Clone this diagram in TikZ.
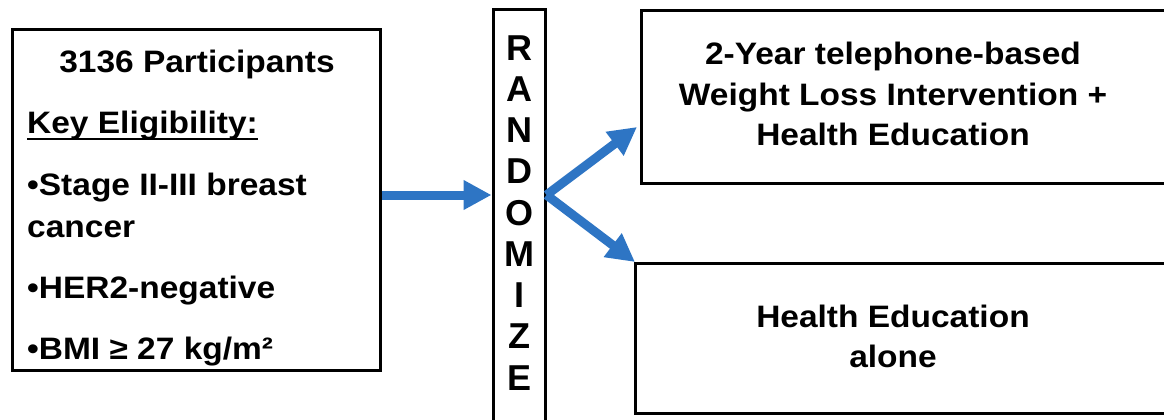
\documentclass[tikz,border=0pt]{standalone}
\usepackage{fontspec}
\setmainfont{Liberation Sans}[FakeStretch=1.08]
\newfontfamily\randfont{Liberation Sans}
\usetikzlibrary{arrows.meta}
\definecolor{arrowblue}{RGB}{46,117,196}
\begin{document}
\begin{tikzpicture}[x=1pt,y=-1pt,
  box/.style={draw=black, line width=3pt, fill=white, inner sep=0pt},
  txt/.style={inner sep=0pt, anchor=base, font=\fontsize{31}{40}\selectfont\bfseries},
  ltxt/.style={txt, anchor=base west},
  rletter/.style={inner sep=0pt, anchor=base, font=\randfont\fontsize{36}{40}\selectfont\bfseries},
  flow/.style={draw=arrowblue, line width=9pt, -{Triangle[length=28pt,width=28pt]}}]
\useasboundingbox (0,0) rectangle (1164,420);
\fill[white] (0,0) rectangle (1164,420);
\clip (0,0) rectangle (1164,420);
% boxes
\node[box, minimum width=368pt, minimum height=340pt] (elig) at (196,200) {};
\node[box, minimum width=52pt, minimum height=430pt] (rand) at (519,225) {};
\node[box, minimum width=539pt, minimum height=172pt] (armA) at (910.5,97) {};
\node[box, minimum width=545pt, minimum height=150pt] (armB) at (907.5,338) {};
% left text
\node[txt] (t1) at (197,72) {3136 Participants};
\node[ltxt] (t2) at (27,133) {Key Eligibility:};
\draw[line width=2pt] ([yshift=-6pt]t2.base west) -- ([yshift=-6pt]t2.base east);
\node[ltxt] (t3) at (27,195) {•Stage II-III breast};
\node[ltxt] (t4) at (27,237) {cancer};
\node[ltxt] (t5) at (27,298) {•HER2-negative};
\node[ltxt] (t6) at (27,359) {•BMI ≥ 27 kg/m²};
% randomize letters
\foreach \L [count=\i from 0] in {R,A,N,D,O,M,I,Z,E}{
  \node[rletter] (r\i) at (519,60+41.25*\i) {\L};
}
% arm texts
\node[txt] (a1) at (893,65) {2-Year telephone-based};
\node[txt] (a2) at (893,105) {Weight Loss Intervention +};
\node[txt] (a3) at (893,145) {Health Education};
\node[txt] (b1) at (893,327) {Health Education};
\node[txt] (b2) at (893,367) {alone};
% arrows
\coordinate (split) at (519,195);
\coordinate (tipA) at (637,127);
\coordinate (tipB) at (635,262);
\draw[flow] (elig.east |- split) -- (rand.west |- split);
\draw[flow] (rand.east |- split) -- (tipA);
\draw[flow] (rand.east |- split) -- (tipB);
\end{tikzpicture}
\end{document}
